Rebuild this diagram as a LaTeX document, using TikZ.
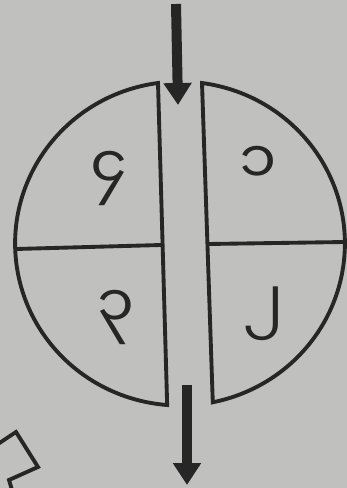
\documentclass[tikz,border=0pt]{standalone}
\usepackage{fontspec}
\newfontfamily\myanmarfont[Script=Myanmar]{Noto Sans Myanmar UI}
\usetikzlibrary{arrows.meta}
\definecolor{paper}{RGB}{192,192,190}
\definecolor{ink}{RGB}{38,38,38}

\begin{document}
\begin{tikzpicture}[
				x=0.02cm, y=0.02cm,
				half style/.style={
					draw=ink,
					line width=2.2pt,
					line join=miter
				},
				digit style/.style={
					text=ink,
					inner sep=0pt,
					font=\myanmarfont\fontsize{34}{34}\selectfont
				},
				flow style/.style={
					draw=ink,
					line width=0.2cm,
					-{Triangle[width=0.54cm,length=0.44cm]}
				}
				]
				
				\fill[paper] (0,0) rectangle (347,488);
				\useasboundingbox (0,0) rectangle (347,488);
				
				\coordinate (centre) at (180,245);
				
				% left half
				\draw[half style] (158,405) arc[start angle=97.7, end angle=265.5, x radius=165, y radius=162] -- cycle;
				\draw[half style] (16,239) -- (161,243);
				
				% right half
				\draw[half style] (202,405) arc[start angle=82.3, end angle=-78.5, x radius=165, y radius=162] -- cycle;
				\draw[half style] (208,244) -- (345,246);
				
				\node[digit style] (node4) at (109,310) {၄};
				\node[digit style] (node1) at (258,323) {၁};
				\node[digit style] (node3) at (116,171) {၃};
				\node[digit style] (node2) at (264,174) {၂};
				
				\coordinate (intop) at (176,484);
				\coordinate (inend) at (178,383);
				\coordinate (outtop) at (187,103);
				\coordinate (outend) at (187,3);
				
				\draw[flow style] (intop) -- (inend);
				\draw[flow style] (outtop) -- (outend);
				
				% corner piece
				\draw[half style] (-2,44) -- (16,56) -- (38,21) -- (9,8) -- (12,-2);
				
			\end{tikzpicture}
\end{document}
